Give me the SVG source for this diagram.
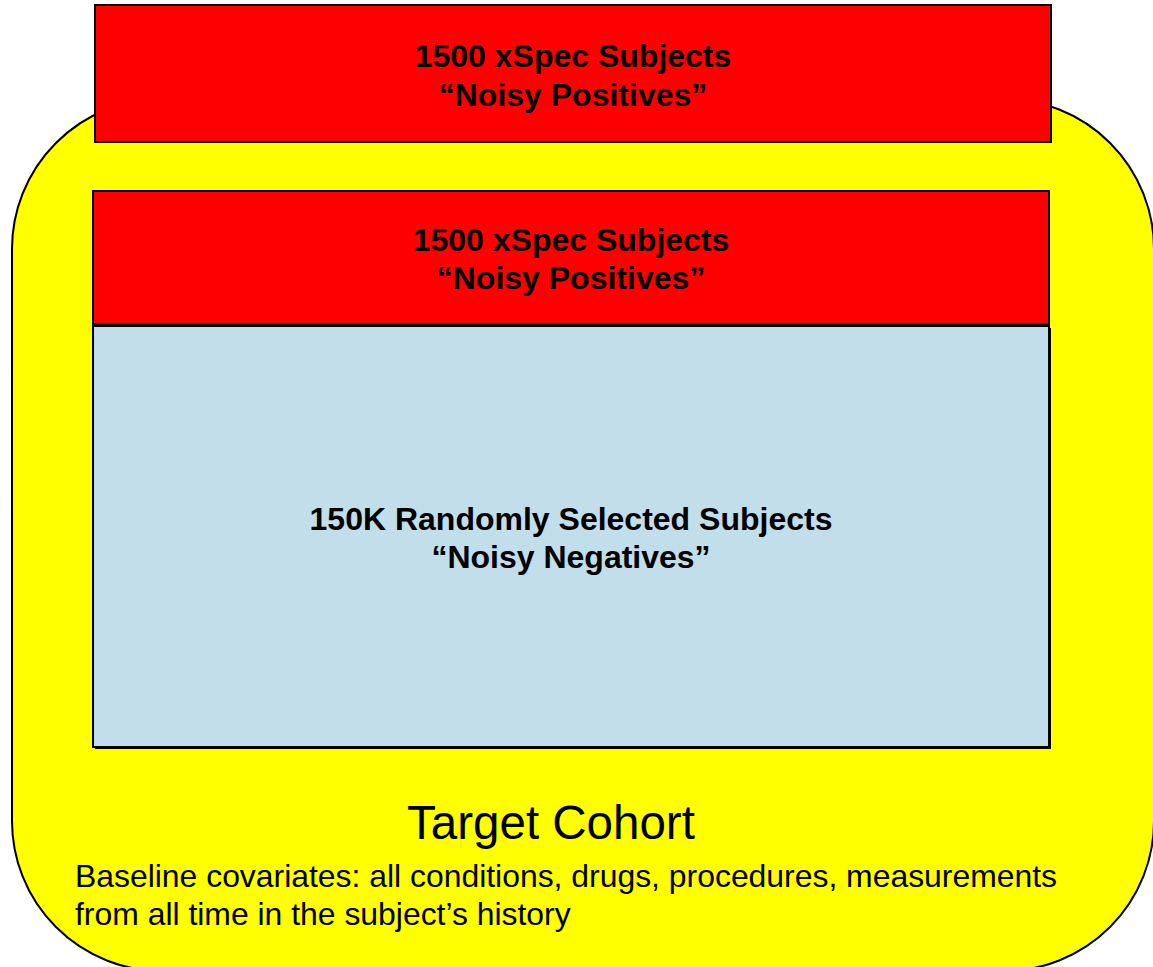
<svg xmlns="http://www.w3.org/2000/svg" width="1153" height="967" viewBox="0 0 1153 967">
  <style>
    .box { stroke: #000; stroke-width: 2; }
    .pos { fill: #ff0000; }
    .neg { fill: #c2deea; }
    .bold { font-family: "Liberation Sans", Arial, sans-serif; font-weight: bold; font-size: 32px; fill: #000; text-anchor: middle; }
    .title { font-family: "Liberation Sans", Arial, sans-serif; font-size: 47.5px; fill: #000; text-anchor: middle; }
    .note { font-family: "Liberation Sans", Arial, sans-serif; font-size: 31.9px; fill: #000; }
  </style>
  <rect width="1153" height="967" fill="#ffffff"/>

  <!-- Target cohort container -->
  <g id="target-cohort">
    <rect class="box" x="12" y="99" width="1142" height="872" rx="150" ry="150" fill="#ffff00"/>
    <text class="title" x="551" y="839">Target Cohort</text>
    <text class="note" x="75" y="887">Baseline covariates: all conditions, drugs, procedures, measurements</text>
    <text class="note" x="75" y="925">from all time in the subject’s history</text>
  </g>

  <!-- Noisy positives, outer copy -->
  <g id="positives-top">
    <rect class="box pos" x="95" y="5" width="956" height="137"/>
    <text class="bold" x="573" y="67">1500 xSpec Subjects</text>
    <text class="bold" x="573" y="106">“Noisy Positives”</text>
  </g>

  <!-- Noisy positives, inside the cohort -->
  <g id="positives-inner">
    <rect class="box pos" x="93" y="191" width="956" height="133"/>
    <text class="bold" x="571" y="251">1500 xSpec Subjects</text>
    <text class="bold" x="571" y="289">“Noisy Positives”</text>
  </g>

  <!-- Noisy negatives, with a thin offset shadow on the right and bottom -->
  <g id="negatives">
    <rect x="95" y="328" width="956" height="421" fill="#000"/>
    <rect class="box neg" x="93" y="326" width="956" height="421"/>
    <text class="bold" x="571" y="530">150K Randomly Selected Subjects</text>
    <text class="bold" x="571" y="568">“Noisy Negatives”</text>
  </g>

  <g id="connectors"/>
</svg>
